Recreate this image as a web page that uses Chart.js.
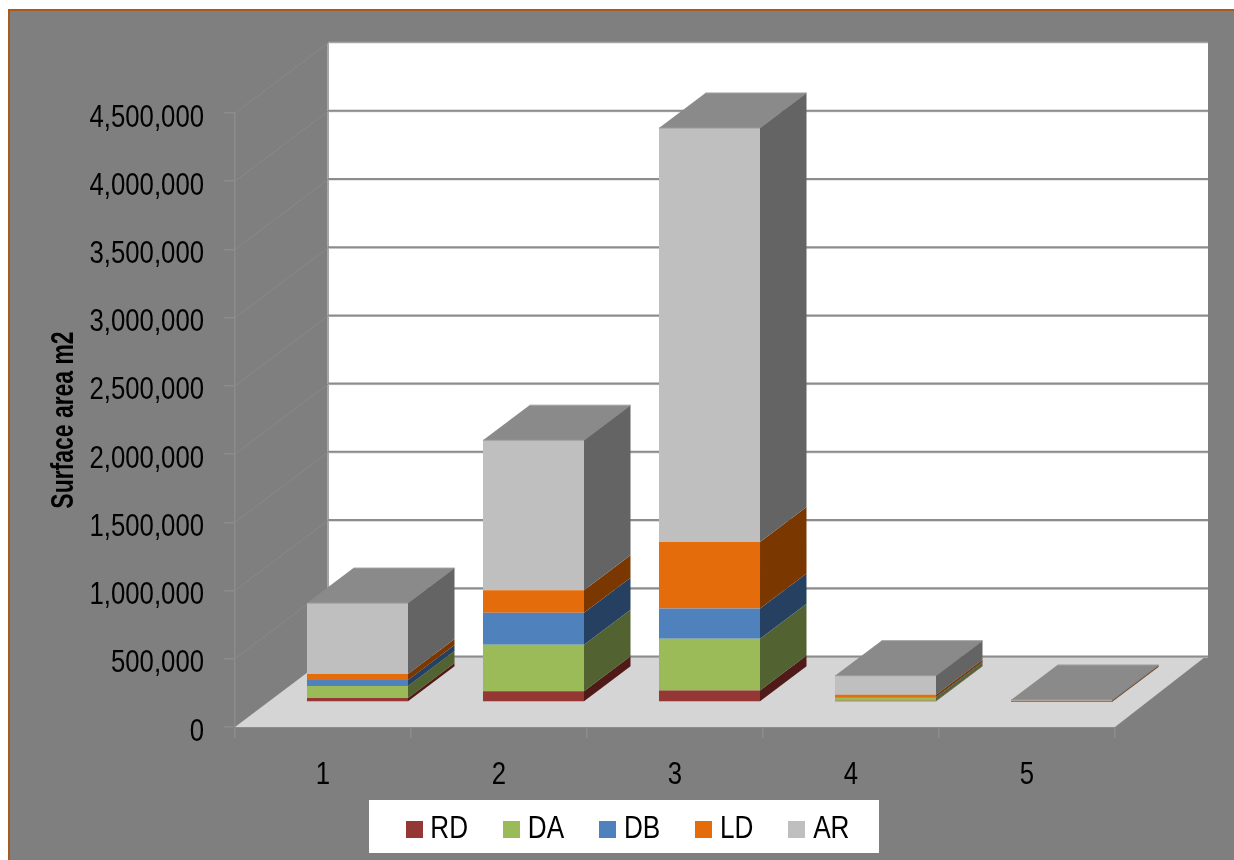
<!DOCTYPE html>
<html>
<head>
<meta charset="utf-8">
<title>Surface area by class</title>
<script src="https://cdn.jsdelivr.net/npm/chart.js@4/dist/chart.umd.min.js"></script>
<style>
  html, body { margin: 0; padding: 0; background: #ffffff; }
  #wrap { width: 1234px; height: 860px; }
</style>
</head>
<body>
<div id="wrap"><canvas id="surface" width="1234" height="860"></canvas></div>
<script>
// Stacked surface areas (m2) per class
const categories = ['1', '2', '3', '4', '5'];
const RD = [29000, 78000, 84000, 10000, 1000];
const DA = [88000, 342000, 379000, 22000, 2000];
const DB = [44000, 235000, 223000, 5000, 1000];
const LD = [44000, 164000, 486000, 17000, 5000];
const AR = [520000, 1100000, 3035000, 139000, 6000];
const seriesNames = ['RD', 'DA', 'DB', 'LD', 'AR'];
const seriesValues = [RD, DA, DB, LD, AR];
const frontColors = ['#953735', '#9bbb59', '#4f81bd', '#e46c0a', '#bfbfbf'];
const sideColors = ['#4f1a18', '#526231', '#254061', '#7a3700', '#646464'];
const topColor = '#8a8a8a';

const GREY = '#7f7f7f';
const RULE = '#8c8c8c';
const FONT = '"Liberation Sans", Arial, sans-serif';
const CONDENSE = 0.83;
const CONDENSE_BOLD = 0.74;

// Oblique projection: wall depth and the plane and depth of the columns
const WALL = { dx: 93, dy: 70 };
const COLUMN_PLANE = { dx: 34.5, dy: 25 };
const COLUMN_DEPTH = { dx: 46.5, dy: 35 };

const canvas = document.getElementById('surface');
const context = canvas.getContext('2d');

// All chart text is set in a condensed cut of the sans face
const plainFill = context.fillText.bind(context);
const plainMeasure = context.measureText.bind(context);
const textCondense = () => (context.font.startsWith('bold') ? CONDENSE_BOLD : CONDENSE);
context.fillText = function (text, x, y) {
  const k = textCondense();
  context.save();
  context.translate(x, y);
  context.scale(k, 1);
  plainFill(text, 0, 0);
  context.restore();
};
context.measureText = function (text) {
  return { width: plainMeasure(text).width * textCondense() };
};

function poly(ctx, pts, fill, stroke, lw) {
  ctx.beginPath();
  pts.forEach((p, i) => (i ? ctx.lineTo(p[0], p[1]) : ctx.moveTo(p[0], p[1])));
  ctx.closePath();
  if (fill) { ctx.fillStyle = fill; ctx.fill(); }
  if (stroke) { ctx.strokeStyle = stroke; ctx.lineWidth = lw || 1; ctx.stroke(); }
}

function line(ctx, x1, y1, x2, y2, color, lw) {
  ctx.beginPath();
  ctx.moveTo(x1, y1);
  ctx.lineTo(x2, y2);
  ctx.strokeStyle = color;
  ctx.lineWidth = lw;
  ctx.stroke();
}

// Panel, walls, floor and legend plate sit behind everything the axes draw
const scenePlugin = {
  id: 'scene',
  beforeDraw(chart) {
    const { ctx, scales: { x, y } } = chart;
    const L = x.left, R = x.right, B = y.getPixelForValue(0), T = y.getPixelForValue(y.max);
    ctx.save();
    ctx.fillStyle = '#ffffff';
    ctx.fillRect(0, 0, chart.width, chart.height);
    ctx.fillStyle = GREY;
    ctx.fillRect(9, 10, chart.width - 9, chart.height - 10);
    ctx.fillStyle = '#a95b1d';
    ctx.fillRect(8, 9, chart.width - 8, 2);
    ctx.fillRect(8, 9, 2, chart.height - 9);

    // back wall
    ctx.fillStyle = '#ffffff';
    ctx.fillRect(L + WALL.dx, T - WALL.dy, R - L, B - T);
    line(ctx, L + WALL.dx, T - WALL.dy - 0.5, R + WALL.dx, T - WALL.dy - 0.5, '#a6a6a6', 1.5);
    line(ctx, L + WALL.dx, T - WALL.dy, L + WALL.dx, B - WALL.dy, '#a6a6a6', 2);

    // floor
    poly(ctx, [[L, B], [R, B], [R + WALL.dx - 3, B - WALL.dy], [L + WALL.dx, B - WALL.dy]], '#d5d5d5');

    // rules on the back wall and the side wall
    y.ticks.forEach(t => {
      const py = y.getPixelForValue(t.value);
      if (t.value < y.max) {
        line(ctx, L + WALL.dx, py - WALL.dy + 0.5, R + WALL.dx, py - WALL.dy + 0.5, '#c4c4c4', 1);
        line(ctx, L + WALL.dx, py - WALL.dy - 0.5, R + WALL.dx, py - WALL.dy - 0.5, RULE, 2);
      }
      if (t.value > 0) line(ctx, L, py, L + WALL.dx, py - WALL.dy, '#898989', 1);
    });

    // legend plate
    ctx.fillStyle = '#ffffff';
    ctx.fillRect(369, 800, 510, 53);
    ctx.restore();
  },
  afterLayout(chart) {
    // legend row placed over the plate
    const lg = chart.legend;
    lg.left += 54;
    lg.right += 54;
    lg.top -= 16;
    lg.bottom -= 16;
  }
};

// Columns stand on the floor, part way back from the front edge
const columnsPlugin = {
  id: 'columns',
  beforeDatasetsDraw(chart) {
    const { ctx } = chart;
    ctx.save();
    ctx.translate(COLUMN_PLANE.dx, -COLUMN_PLANE.dy);
  },
  afterDatasetsDraw(chart) {
    const { ctx } = chart;
    const last = chart.data.datasets.length - 1;
    const d = COLUMN_DEPTH;
    chart.data.datasets.forEach((ds, i) => {
      chart.getDatasetMeta(i).data.forEach(bar => {
        const rx = bar.x + bar.width / 2, lx = bar.x - bar.width / 2;
        const top = bar.y, base = bar.base;
        poly(ctx, [[rx, top], [rx + d.dx, top - d.dy], [rx + d.dx, base - d.dy], [rx, base]], sideColors[i]);
        if (i === last) {
          poly(ctx, [[lx, top], [lx + d.dx, top - d.dy], [rx + d.dx, top - d.dy], [rx, top]], topColor);
          line(ctx, lx + d.dx, top - d.dy, rx + d.dx, top - d.dy, '#a0a0a0', 1);
          line(ctx, rx, top, rx + d.dx, top - d.dy, '#777777', 0.6);
          line(ctx, lx, top, rx, top, '#9a9a9a', 1);
        }
      });
    });
    ctx.restore();
  }
};

// Square legend marker, wider than the box the legend reserves for it
function swatch(color) {
  const c = document.createElement('canvas');
  c.width = 17;
  c.height = 17;
  const g = c.getContext('2d');
  g.fillStyle = color;
  g.fillRect(0, 0, 17, 17);
  return c;
}

new Chart(canvas, {
  type: 'bar',
  data: {
    labels: categories,
    datasets: seriesNames.map((name, i) => ({
      label: name,
      data: seriesValues[i],
      backgroundColor: frontColors[i],
      pointStyle: swatch(frontColors[i]),
      borderWidth: 0,
      categoryPercentage: 1,
      barPercentage: 0.574
    }))
  },
  plugins: [scenePlugin, columnsPlugin],
  options: {
    responsive: false,
    animation: false,
    layout: { padding: { top: 113, left: 40, right: 119, bottom: -11.5 } },
    scales: {
      x: {
        stacked: true,
        afterFit(s) { s.height = 60; },
        border: { color: RULE, width: 1 },
        grid: { drawOnChartArea: false, color: RULE, lineWidth: 1.5, tickLength: 11, offset: true },
        ticks: { color: '#000000', padding: 19, maxRotation: 0, font: { family: FONT, size: 31 } }
      },
      y: {
        stacked: true,
        min: 0,
        max: 4500000,
        afterFit(s) { s.width = 195; },
        border: { color: RULE, width: 1.5 },
        grid: { drawOnChartArea: false, color: RULE, lineWidth: 1.5, tickLength: 11 },
        title: {
          display: true,
          text: 'Surface area m2',
          color: '#000000',
          padding: { top: 6, bottom: 0 },
          font: { family: FONT, size: 31, weight: 'bold' }
        },
        ticks: {
          color: '#000000',
          padding: 20,
          labelOffset: 5,
          stepSize: 500000,
          font: { family: FONT, size: 31 },
          callback: v => Number(v).toLocaleString('en-US')
        }
      }
    },
    plugins: {
      title: { display: false },
      tooltip: { enabled: false },
      legend: {
        display: true,
        position: 'bottom',
        align: 'center',
        labels: {
          usePointStyle: true,
          boxWidth: 1,
          padding: 43,
          color: '#000000',
          font: { family: FONT, size: 31.5 }
        }
      }
    }
  }
});
</script>
</body>
</html>
